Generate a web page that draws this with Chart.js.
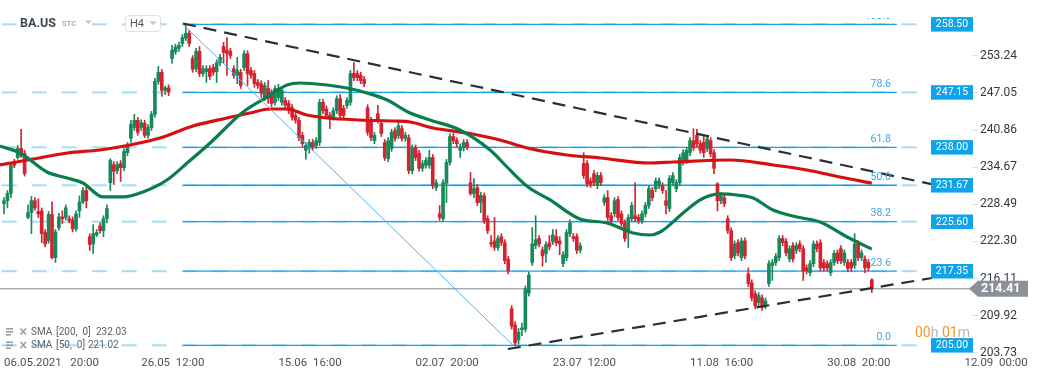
<!DOCTYPE html>
<html><head><meta charset="utf-8">
<script src="https://cdn.jsdelivr.net/npm/chart.js@4.4.0/dist/chart.umd.min.js"></script>
<style>html,body{margin:0;padding:0;background:#fff;overflow:hidden}canvas{display:block}</style>
</head><body>
<canvas id="c" width="1041" height="379"></canvas>
<script>
// ---- DATA (BA.US, H4) ----
const candleOpen = [228.6,229.1,230.3,235.5,236.3,237.8,237.0,226.3,227.1,229.1,227.3,227.4,223.8,222.4,226.8,219.6,224.6,226.4,226.3,226.1,225.9,224.4,227.4,228.9,230.8,223.1,221.9,223.4,224.9,224.1,226.1,232.1,235.1,234.1,235.3,234.6,237.1,239.5,241.3,242.5,241.3,242.0,240.0,241.3,243.5,249.0,250.5,247.5,247.9,252.8,253.9,254.5,255.3,256.2,257.0,252.8,251.1,254.0,250.3,250.6,251.1,251.3,250.6,252.1,254.8,254.2,254.0,251.1,250.0,250.5,251.3,253.6,250.8,250.3,248.8,248.6,246.3,247.8,247.1,245.5,246.3,245.5,245.8,245.3,244.6,243.3,242.5,240.0,237.5,238.0,238.8,238.3,238.8,245.5,244.4,243.3,243.0,244.1,246.1,244.5,245.0,245.5,250.3,250.3,250.0,249.3,244.6,242.5,239.1,243.6,242.0,238.8,236.1,237.8,240.8,239.9,241.1,239.5,239.6,234.1,237.9,237.0,234.5,235.0,235.0,236.3,231.3,226.9,226.1,232.0,235.5,239.8,239.1,237.5,237.9,238.8,232.1,230.3,231.3,228.8,229.9,226.1,222.1,222.4,221.3,223.1,222.1,219.3,211.1,208.4,205.9,207.6,207.7,213.7,218.8,221.6,222.8,220.9,220.3,222.1,222.3,223.1,222.4,218.6,219.6,223.6,223.1,223.1,220.9,235.3,235.3,232.4,233.6,231.6,233.3,228.8,229.6,226.6,226.9,229.3,226.9,225.4,224.1,226.1,226.6,226.3,225.8,226.9,228.3,230.8,231.1,231.6,231.6,229.1,227.8,232.1,231.1,232.1,235.5,235.8,237.1,239.1,240.0,238.6,238.8,237.8,239.1,237.1,231.9,229.1,229.6,226.1,224.1,219.9,222.1,219.6,222.4,216.9,215.4,213.6,212.1,212.9,211.6,215.3,218.3,218.8,219.6,222.8,222.3,219.4,221.6,220.8,221.9,221.1,217.9,217.1,218.6,221.9,222.1,218.8,218.6,217.1,218.8,220.4,221.1,218.8,218.8,218.8,218.3,221.9,219.6,219.4,218.8,215.9];
const candleHigh = [229.6,230.8,235.3,236.0,238.3,241.0,237.5,228.4,229.8,229.6,229.4,227.9,224.3,227.3,228.9,224.3,227.0,227.4,228.4,226.6,226.4,227.4,229.9,231.3,231.3,223.6,225.1,224.3,225.4,226.6,228.4,236.1,235.6,235.6,235.8,237.8,238.8,242.5,243.5,243.0,242.6,242.5,241.8,244.0,249.5,251.5,251.0,248.2,248.4,255.0,255.2,255.5,256.8,258.5,257.5,253.3,254.5,254.8,251.6,251.6,251.6,251.8,252.6,253.5,255.5,256.3,254.5,251.6,253.0,251.0,254.1,254.1,251.3,250.8,249.3,249.1,248.8,249.1,247.6,248.3,248.5,248.0,246.3,245.8,245.1,243.8,243.0,240.5,238.8,239.3,239.3,239.6,246.0,246.0,244.9,243.8,244.6,246.6,246.8,245.0,246.3,250.8,252.1,250.8,250.5,249.8,245.1,243.0,240.5,245.0,242.5,239.3,239.6,241.0,241.3,242.1,241.6,240.5,240.1,238.4,238.4,237.5,235.8,236.3,237.5,236.8,232.6,228.3,232.6,236.0,240.3,240.3,239.6,238.6,239.3,239.3,233.8,232.8,231.8,230.5,230.4,226.6,223.3,226.3,223.3,223.6,222.6,219.8,211.6,208.9,207.8,208.7,214.9,217.2,224.6,226.6,223.3,221.4,222.3,223.3,224.3,224.3,223.1,220.6,224.3,225.9,223.6,223.6,222.1,237.1,235.8,232.9,234.1,233.8,233.8,230.1,230.8,227.1,229.6,229.8,227.4,225.9,226.8,228.8,232.1,226.8,227.4,228.8,231.6,231.3,232.9,232.9,232.1,230.8,233.3,233.8,232.6,236.8,237.6,238.0,239.6,241.1,241.0,239.1,239.9,239.9,239.6,237.6,232.1,230.4,230.1,226.6,224.6,222.4,222.6,222.9,222.9,217.9,215.9,214.1,213.8,213.4,212.9,219.1,219.3,220.3,223.3,223.3,222.8,221.6,222.1,222.1,222.4,221.6,218.4,219.1,222.4,222.4,222.6,219.3,219.1,219.3,220.8,220.9,221.6,220.9,219.3,219.3,223.6,222.4,220.9,219.9,219.3,216.1];
const candleLow = [226.9,227.9,229.6,234.6,236.0,236.3,233.2,226.1,223.6,227.5,226.3,222.1,221.4,222.0,219.4,218.8,224.2,225.3,225.9,225.4,223.9,224.0,226.3,228.6,227.9,220.8,220.3,223.1,223.7,223.1,225.4,230.8,231.8,233.6,232.3,234.1,236.6,238.8,240.8,240.0,240.8,239.6,239.5,240.8,243.0,248.5,246.5,246.8,246.6,252.0,253.5,254.0,254.8,255.8,254.8,250.5,250.6,249.8,249.8,248.8,249.3,250.0,248.8,251.6,252.0,250.0,252.8,249.5,248.6,247.8,250.8,248.3,249.5,248.0,247.8,246.3,245.8,245.3,244.8,245.0,245.8,245.0,244.5,243.6,242.5,242.0,239.1,238.1,236.0,237.0,237.5,237.8,238.3,243.6,242.8,241.1,242.5,243.6,242.8,242.8,244.5,245.0,249.1,249.1,248.6,248.1,240.0,239.1,238.6,242.0,239.8,235.8,235.6,237.3,239.0,239.4,239.0,239.0,233.6,233.6,235.8,234.0,234.0,234.5,234.5,231.1,230.8,225.8,225.6,228.8,235.0,238.6,238.1,236.3,237.4,237.6,230.0,229.6,228.3,227.1,225.3,223.6,221.4,220.8,220.8,221.6,218.6,216.9,207.7,205.0,205.2,206.6,207.2,213.2,218.3,221.1,221.4,218.2,218.8,220.9,221.8,221.6,220.1,218.1,219.1,223.1,222.3,220.3,220.4,232.8,231.4,231.3,231.6,231.1,231.6,228.3,225.8,225.3,226.4,225.8,224.8,222.3,221.3,225.6,225.6,225.3,225.3,226.4,227.8,229.1,230.6,231.1,230.3,226.9,227.3,231.6,230.6,231.6,235.0,235.3,236.6,237.5,238.1,237.0,236.3,237.3,236.4,233.6,227.4,228.6,228.1,223.6,219.1,219.4,219.9,219.1,219.4,214.8,212.4,211.1,211.6,210.8,211.1,214.8,215.8,218.3,219.1,221.6,219.9,218.9,218.9,220.3,220.6,215.8,216.9,216.6,218.1,220.6,217.4,217.4,217.4,216.6,218.3,218.6,218.6,218.3,217.3,217.4,217.8,219.1,219.1,217.1,217.4,213.8];
const candleClose = [229.1,230.3,235.0,235.0,237.8,236.6,233.6,227.1,229.1,227.9,226.9,223.6,221.9,226.8,219.6,223.9,226.4,226.1,227.9,225.8,224.4,226.9,228.9,230.8,229.1,221.8,223.6,223.8,224.1,226.1,227.8,235.8,234.0,235.1,234.6,237.3,238.3,241.8,242.5,240.5,242.1,240.0,241.3,243.5,249.0,250.5,247.5,247.9,247.2,254.2,254.7,255.0,256.3,257.0,255.3,251.0,254.0,250.3,251.1,251.1,249.8,250.5,252.1,253.0,253.8,253.6,253.3,250.0,250.8,248.3,253.6,250.3,250.0,248.6,248.3,247.0,248.3,246.1,245.3,247.8,247.8,247.5,245.0,244.1,243.0,242.5,239.6,238.6,238.3,238.8,238.0,239.1,245.5,244.1,243.3,242.8,244.1,246.1,243.3,243.3,245.8,250.3,249.6,249.6,249.1,248.6,240.5,239.6,240.0,242.5,240.3,236.3,239.1,240.5,239.5,241.6,239.5,240.0,234.1,237.9,236.3,234.5,235.3,235.8,236.3,231.6,232.1,226.3,232.1,235.5,239.8,239.1,238.6,238.0,238.8,238.1,230.3,231.1,228.8,230.0,225.8,224.1,221.9,221.3,222.8,222.1,219.1,217.4,208.2,205.4,207.2,207.9,214.4,216.7,221.9,222.6,221.9,219.9,221.8,221.4,223.4,222.1,221.9,220.1,223.8,225.4,222.8,220.8,221.6,233.3,231.9,231.8,232.1,233.3,232.1,229.6,226.3,225.8,229.1,226.3,225.3,222.8,226.3,228.3,226.1,225.8,226.9,228.3,231.1,229.6,232.4,232.4,230.8,228.3,232.8,233.3,232.1,236.3,237.1,237.5,239.1,238.0,238.6,237.5,237.1,239.4,236.9,234.5,229.1,229.9,228.6,224.1,219.6,221.9,220.4,222.4,219.9,215.3,212.9,211.6,213.3,211.3,212.4,218.6,218.8,219.8,222.8,222.1,220.4,221.1,219.4,221.6,221.1,217.4,217.4,218.6,221.9,221.1,217.9,217.9,217.9,218.8,220.3,219.1,219.1,220.4,217.8,217.9,221.9,219.6,220.4,217.9,217.9,214.41];

const sma200Idx = [-1.17,8.5,18.4,28,36.7,45.5,55.1,65,71.7,77.6,82.5,88.3,94.2,103.8,113.4,118.4,125.1,135,144.6,152.5,164.1,173.8,188.3,195,211.7,224.2,234.1,243.7,253];
const sma200Val = [235.05,236.05,237.05,237.55,238.38,239.55,241.55,242.88,243.72,244.38,244.38,243.38,242.88,242.55,242.38,242.22,241.22,240.38,239.22,237.88,236.72,236.22,235.38,235.55,235.88,235.05,234.22,233.05,232.03];
const sma50Idx = [-1.17,4.7,12.5,18.4,23,28.9,34.7,40.5,47.5,53.4,60.1,69.7,76.7,82.5,86.3,94.2,100,105.8,111.7,118.4,124.2,132.9,141.7,147.5,152.8,159.2,167.9,175.8,183.4,188.3,191.3,198,202.9,208.7,213.7,218.4,224.2,231.2,237.9,245.8,253];
const sma50Val = [238.2,237.05,233.88,232.88,232.05,229.72,229.72,230.55,232.55,235.38,238.72,243.88,246.38,248.38,248.72,248.38,247.88,247.05,245.88,243.72,242.55,240.88,237.55,234.22,231.38,229.22,226.05,225.38,223.72,223.38,223.88,227.05,229.22,230.22,230.05,229.55,227.55,226.38,225.55,223.05,221.02];

const fibLevels = [258.50,247.15,238.00,231.67,225.60,217.35,205.00];
const fibNames = ['100.0','78.6','61.8','50.0','38.2','23.6','0.0'];
const fibStartIdx = 52.2, fibEndIdx = 260.3, levelEndIdx = 266.2;

const upperTrendIdx = [52.2,272.9], upperTrendVal = [258.63,231.55];
const lowerTrendIdx = [146.9,270.6], lowerTrendVal = [204.38,216.22];
const fibDiagIdx = [52.2,148.4], fibDiagVal = [258.50,205.00];

const lastPrice = 214.41;
const smaLegend = [['[200,  0]','232.03'],['[50,  0]','221.02']];

const xTickIdx = [0,40,80,120,160,200,240,280];
const xTickLabels = ['06.05.2021   20:00','26.05  12:00','15.06  16:00','02.07  20:00','23.07  12:00','11.08  16:00','30.08  20:00','12.09  00:00'];
const yTickVals = [203.73,209.92,216.11,222.30,228.49,234.67,240.86,247.05,253.24];

const X_MIN = -1.166, X_MAX = 282.5, Y_MIN = 203.88, Y_MAX = 262.55;

// ---- BUILD ----
Chart.defaults.font.family = "Roboto, 'DejaVu Sans', sans-serif";
const GREEN = '#17895a', RED = '#d4232f';
const up = candleClose.map((c,i)=>c>=candleOpen[i]);
const wickData = candleOpen.map((o,i)=>({x:i, y:[candleLow[i], candleHigh[i]]}));
const bodyData = candleOpen.map((o,i)=>({x:i, y:[o, candleClose[i]]}));
const candleColors = up.map(u=>u?GREEN:RED);

const pts = (xs, ys) => xs.map((x,i)=>({x, y:ys[i]}));
const lineDs = (data, color, width, order, extra) => Object.assign({
  type:'line', data, borderColor:color, borderWidth:width, pointRadius:0, fill:false, order
}, extra||{});

const datasets = [];
datasets.push(lineDs(pts(upperTrendIdx, upperTrendVal), '#2b3035', 2.2, 0, {borderDash:[13,8]}));
datasets.push(lineDs(pts(lowerTrendIdx, lowerTrendVal), '#2b3035', 2.2, 0, {borderDash:[13,8]}));
datasets.push(lineDs(pts(fibDiagIdx, fibDiagVal), '#4ab6ef', 1, 1));
datasets.push(lineDs(pts(sma50Idx, sma50Val), '#0a7d4c', 3.2, 2, {cubicInterpolationMode:'monotone'}));
datasets.push(lineDs(pts(sma200Idx, sma200Val), '#d61010', 3.2, 2, {cubicInterpolationMode:'monotone'}));
datasets.push({type:'bar', data:bodyData, backgroundColor:candleColors, barThickness:3, grouped:false, minBarLength:1, borderWidth:0, order:3});
datasets.push({type:'bar', data:wickData, backgroundColor:candleColors, barThickness:1, grouped:false, borderWidth:0, order:4});
datasets.push(lineDs([{x:X_MIN,y:lastPrice},{x:X_MAX,y:lastPrice}], '#7c848c', 1, 5));
fibLevels.forEach(lv=>{
  datasets.push(lineDs([{x:fibStartIdx,y:lv},{x:fibEndIdx,y:lv}], '#16a1e6', 1.3, 6));
  datasets.push(lineDs([{x:X_MIN,y:lv},{x:levelEndIdx,y:lv}], 'rgba(35,168,236,0.4)', 2, 7, {borderDash:[15,15], borderDashOffset:28.3}));
});

const overlay = {
  id:'overlay',
  afterDraw(chart){
    const {ctx, scales:{y}} = chart;
    ctx.save();
    // fib labels
    ctx.font = '10.5px Roboto'; ctx.fillStyle = '#34a8e6';
    ctx.textAlign = 'right'; ctx.textBaseline = 'middle';
    fibLevels.forEach((lv,k)=>{
      const py = y.getPixelForValue(lv);
      ctx.save();
      if (k===0){ ctx.beginPath(); ctx.rect(0,18,chart.width,30); ctx.clip(); }
      ctx.fillText(fibNames[k], 891, py-8);
      ctx.restore();
    });
    // price boxes
    ctx.textAlign = 'center';
    fibLevels.forEach(lv=>{
      const py = y.getPixelForValue(lv);
      ctx.fillStyle = '#0fa4ea';
      ctx.fillRect(931, py-7.2, 42, 14.5);
      ctx.fillStyle = '#ffffff';
      ctx.font = '10.5px Roboto';
      ctx.fillText(lv.toFixed(2), 952, py+0.3);
    });
    // current price tag
    const cp = y.getPixelForValue(lastPrice);
    ctx.fillStyle = '#8b9196';
    ctx.beginPath();
    ctx.moveTo(969, cp); ctx.lineTo(978, cp-8); ctx.lineTo(1028, cp-8); ctx.lineTo(1028, cp+8); ctx.lineTo(978, cp+8); ctx.closePath();
    ctx.fill();
    ctx.fillStyle = '#fff'; ctx.font = 'bold 12.5px Roboto'; ctx.textAlign = 'left';
    ctx.fillText(lastPrice.toFixed(2), 981, cp+0.5);
    // countdown
    ctx.font = '14px Roboto'; ctx.textAlign='left';
    let cx = 915;
    [['00','#f7961f'],['h','#b8b8b8'],[' 01','#f7961f'],['m','#b8b8b8']].forEach(([t,c])=>{
      ctx.fillStyle = c; ctx.fillText(t, cx, 333); cx += ctx.measureText(t).width;
    });
    // SMA legend
    ctx.font = '10px Roboto'; ctx.fillStyle = '#5f6366';
    [332, 345.5].forEach((ly,k)=>{
      ctx.fillStyle = '#9a9ea2';
      ctx.fillRect(6, ly-4, 7, 1.6); ctx.fillRect(6, ly-1, 7, 1.6); ctx.fillRect(6, ly+2, 5, 1.6);
      ctx.strokeStyle = '#9a9ea2'; ctx.lineWidth = 1.6;
      ctx.beginPath(); ctx.moveTo(20.5, ly-3.5); ctx.lineTo(26, ly+2.5); ctx.moveTo(26, ly-3.5); ctx.lineTo(20.5, ly+2.5); ctx.stroke();
      ctx.fillStyle = '#5f6366';
      ctx.fillText('SMA', 31, ly);
      ctx.fillText(smaLegend[k][0], 56, ly);
      ctx.fillText(smaLegend[k][1], k===0?96:88, ly);
    });
    // header
    ctx.fillStyle = '#fff'; ctx.fillRect(17, 14, 75, 20);
    ctx.font = 'bold 12.5px Roboto'; ctx.fillStyle = '#3e4954'; ctx.textBaseline='middle';
    ctx.fillText('BA.US', 20, 24);
    ctx.font = 'bold 7.5px Roboto'; ctx.fillStyle = '#a9b0b6';
    ctx.fillText('STC', 62, 24.5);
    ctx.fillStyle = '#c4c9cd';
    ctx.beginPath(); ctx.moveTo(85,20.5); ctx.lineTo(92,20.5); ctx.lineTo(88.5,24); ctx.closePath(); ctx.fill();
    ctx.fillStyle = '#fff'; ctx.strokeStyle = '#dde0e3'; ctx.lineWidth = 1;
    ctx.beginPath(); ctx.roundRect(125.5, 15.5, 35, 16, 3); ctx.fill(); ctx.stroke();
    ctx.font = '11px Roboto'; ctx.fillStyle = '#565c62';
    ctx.fillText('H4', 130, 24);
    ctx.fillStyle = '#c4c9cd';
    ctx.beginPath(); ctx.moveTo(149,21.5); ctx.lineTo(157,21.5); ctx.lineTo(153,25); ctx.closePath(); ctx.fill();
    ctx.restore();
  }
};

new Chart(document.getElementById('c'), {
  type:'bar',
  data:{datasets},
  options:{
    responsive:false, animation:false, events:[],
    layout:{padding:0},
    plugins:{legend:{display:false}, tooltip:{enabled:false}},
    scales:{
      x:{
        type:'linear', min:X_MIN, max:X_MAX, offset:false,
        grid:{display:false, drawTicks:false, offset:false}, border:{display:false},
        afterBuildTicks:(s)=>{ s.ticks = xTickIdx.map(v=>({value:v})); },
        afterFit:(s)=>{ s.height = 27; s.paddingLeft = 0; s.paddingRight = 0; },
        ticks:{autoSkip:false, maxRotation:0, align:'start', padding:4, color:'#4d5257', font:{size:11.5},
          callback:(v)=>{ const k = xTickIdx.indexOf(v); return k>=0 ? xTickLabels[k] : ''; }}
      },
      y:{
        type:'linear', position:'right', min:Y_MIN, max:Y_MAX,
        grid:{display:true, drawOnChartArea:false, drawTicks:true, tickLength:5, color:'#dcdcdc', tickColor:'#dcdcdc'},
        border:{display:false},
        afterBuildTicks:(s)=>{ s.ticks = yTickVals.map(v=>({value:v})); },
        afterFit:(s)=>{ s.width = 68; s.paddingTop = 0; s.paddingBottom = 0; },
        ticks:{padding:2, color:'#33383d', font:{size:12}, callback:(v)=>Number(v).toFixed(2)}
      }
    }
  },
  plugins:[overlay]
});
</script>
</body></html>
